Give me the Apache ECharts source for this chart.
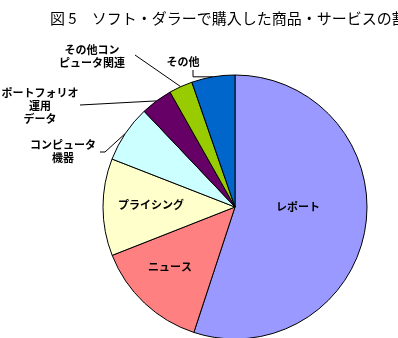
<!DOCTYPE html>
<html>
<head>
<meta charset="utf-8">
<script src="https://cdn.jsdelivr.net/npm/echarts@6/dist/echarts.min.js"></script>
<style>
html,body{margin:0;padding:0;background:#fff;}
#chart{width:398px;height:338px;}
</style>
</head>
<body>
<div id="chart"></div>
<script>
// ---- data (% share, clockwise from 12 o'clock) ----
var categories = ['レポート', 'ニュース', 'プライシング', 'コンピュータ\n機器', 'ポートフォリオ\n運用\nデータ', 'その他コン\nピュータ関連', 'その他'];
var shares = [55.1, 14.0, 11.9, 7.0, 3.9, 2.9, 5.3];
var titleText = '図 5\u3000ソフト・ダラーで購入した商品・サービスの割合';

// ---- styling / layout (not data) ----
var colors = ['#9999FF', '#FF8080', '#FFFFCC', '#CCFFFF', '#660066', '#99CC00', '#0066CC'];
var inside = [true, true, true, false, false, false, false];
// label centre positions and guide-line end relative to label centre
var labelSpots = [
  {x: 298, y: 207},
  {x: 170, y: 267},
  {x: 151, y: 205},
  {x: 63, y: 151, end: [37, 1], bend: [42, 1]},
  {x: 40, y: 105.5, end: [40, -0.5]},
  {x: 92, y: 56, end: [43, -1]},
  {x: 183, y: 62, end: [10, 8], bendY: true}
];

var chart = echarts.init(document.getElementById('chart'), null, {renderer: 'canvas'});
var fontFam = '"Noto Sans CJK JP", "Noto Sans CJK SC", sans-serif';

var seriesData = categories.map(function (c, i) {
  return {
    name: c,
    value: shares[i],
    itemStyle: {color: colors[i]},
    label: {position: inside[i] ? 'inside' : 'outside'},
    labelLine: {show: !inside[i]}
  };
});

chart.setOption({
  animation: false,
  title: {
    text: titleText,
    left: 45,
    top: 6,
    textStyle: {fontFamily: fontFam, fontSize: 15, fontWeight: 'normal', color: '#000'}
  },
  series: [{
    type: 'pie',
    center: [235, 207],
    radius: 132,
    startAngle: 90,
    clockwise: true,
    avoidLabelOverlap: false,
    itemStyle: {borderColor: '#000', borderWidth: 1},
    emphasis: {disabled: true},
    label: {
      show: true,
      formatter: '{b}',
      fontFamily: fontFam,
      fontSize: 11,
      fontWeight: 'bold',
      lineHeight: 13,
      color: '#000',
      align: 'center'
    },
    labelLine: {show: true, length: 10, length2: 10, lineStyle: {color: '#000', width: 1}},
    labelLayout: function (params) {
      var s = labelSpots[params.dataIndex];
      var res = {x: s.x, y: s.y, align: 'center', verticalAlign: 'middle'};
      if (s.end && params.labelLinePoints) {
        var p0 = params.labelLinePoints[0];
        var e = [s.x + s.end[0], s.y + s.end[1]];
        if (s.bendY) {
          res.labelLinePoints = [p0, [e[0], p0[1]], e];
        } else if (s.bend) {
          res.labelLinePoints = [p0, [s.x + s.bend[0], s.y + s.bend[1]], e];
        } else {
          res.labelLinePoints = [p0, e];
        }
      }
      return res;
    },
    data: seriesData
  }]
});
</script>
</body>
</html>
